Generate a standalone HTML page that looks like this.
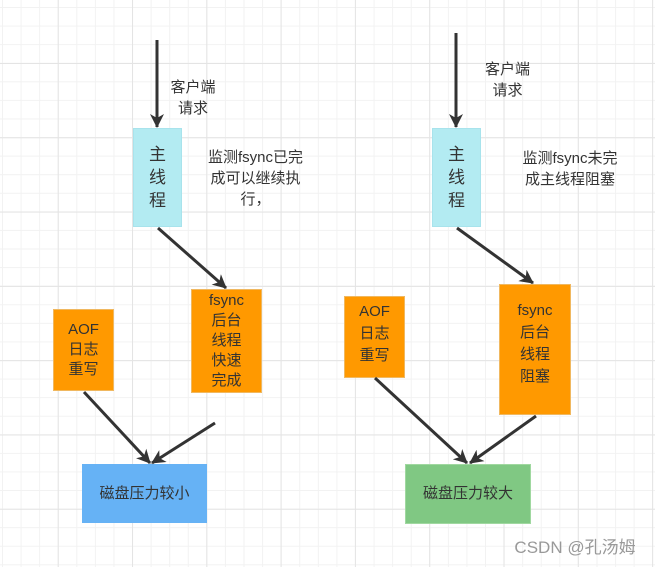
<!DOCTYPE html>
<html><head><meta charset="utf-8"><style>
body{margin:0;width:655px;height:567px;overflow:hidden;background:#fff;font-family:"Liberation Sans","Noto Sans CJK SC",sans-serif;}
.g{position:absolute;left:0;top:0;width:655px;height:567px;
background-image:
linear-gradient(to right,#e4e4e4 1px,transparent 1px),
linear-gradient(to bottom,#e4e4e4 1px,transparent 1px),
linear-gradient(to right,#f2f2f2 1px,transparent 1px),
linear-gradient(to bottom,#f2f2f2 1px,transparent 1px);
background-size:74.3px 74.3px,74.3px 74.3px,18.58px 18.58px,18.58px 18.58px;
background-position:132px 0,0 63px,2px 0,0 7px;}
.b{position:absolute;display:flex;align-items:center;justify-content:center;text-align:center;font-size:15px;color:#333;line-height:20px;box-sizing:border-box;}
.t{position:absolute;font-size:15px;color:#333;line-height:21px;text-align:center;}
</style></head><body>
<div class="g"></div>
<div class="b" style="left:133px;top:128px;width:49px;height:99px;background:#b3ebf2;border:1px solid #a8e3ec;font-size:17px;line-height:23px">主<br>线<br>程</div>
<div class="b" style="left:191px;top:289px;width:71px;height:104px;background:#ff9900;border:1px solid #f0b860">fsync<br>后台<br>线程<br>快速<br>完成</div>
<div class="b" style="left:53px;top:309px;width:61px;height:82px;background:#ff9900;border:1px solid #f0b860">AOF<br>日志<br>重写</div>
<div class="b" style="left:82px;top:464px;width:125px;height:59px;background:#66b2f5;">磁盘压力较小</div>
<div class="b" style="left:432px;top:128px;width:49px;height:99px;background:#b3ebf2;border:1px solid #a8e3ec;font-size:17px;line-height:23px">主<br>线<br>程</div>
<div class="b" style="left:499px;top:284px;width:72px;height:131px;background:#ff9900;border:1px solid #f0b860;padding-bottom:12px;line-height:22px">fsync<br>后台<br>线程<br>阻塞</div>
<div class="b" style="left:344px;top:296px;width:61px;height:82px;background:#ff9900;border:1px solid #f0b860;padding-bottom:6px;line-height:22px">AOF<br>日志<br>重写</div>
<div class="b" style="left:405px;top:464px;width:126px;height:60px;background:#80c883;border:1px solid #a0d8a0">磁盘压力较大</div>
<div class="t" style="left:163px;top:77px;width:60px;">客户端<br>请求</div>
<div class="t" style="left:198px;top:147px;width:115px;">监测fsync已完<br>成可以继续执<br>行，</div>
<div class="t" style="left:475px;top:59px;width:65px;">客户端<br>请求</div>
<div class="t" style="left:510px;top:148px;width:120px;">监测fsync未完<br>成主线程阻塞</div>
<div class="t" style="left:500px;top:537px;width:150px;color:#999;font-size:17px;">CSDN @孔汤姆</div>
<svg width="655" height="567" style="position:absolute;left:0;top:0">
<defs><marker id="a" markerWidth="14" markerHeight="14" refX="13" refY="7" orient="auto" markerUnits="userSpaceOnUse" viewBox="0 0 14 14"><path d="M0,0L14,7L0,14L4,7z" fill="#333"/></marker></defs>
<g stroke="#333" stroke-width="3" fill="none" marker-end="url(#a)">
<line x1="157" y1="40" x2="157" y2="127"/>
<line x1="158" y1="228" x2="226" y2="288"/>
<line x1="84" y1="392" x2="150" y2="463"/>
<line x1="215" y1="423" x2="152" y2="463"/>
<line x1="456" y1="33" x2="456" y2="127"/>
<line x1="457" y1="228" x2="533" y2="283"/>
<line x1="375" y1="378" x2="467" y2="463"/>
<line x1="536" y1="416" x2="470" y2="463"/>
</g></svg>
</body></html>
